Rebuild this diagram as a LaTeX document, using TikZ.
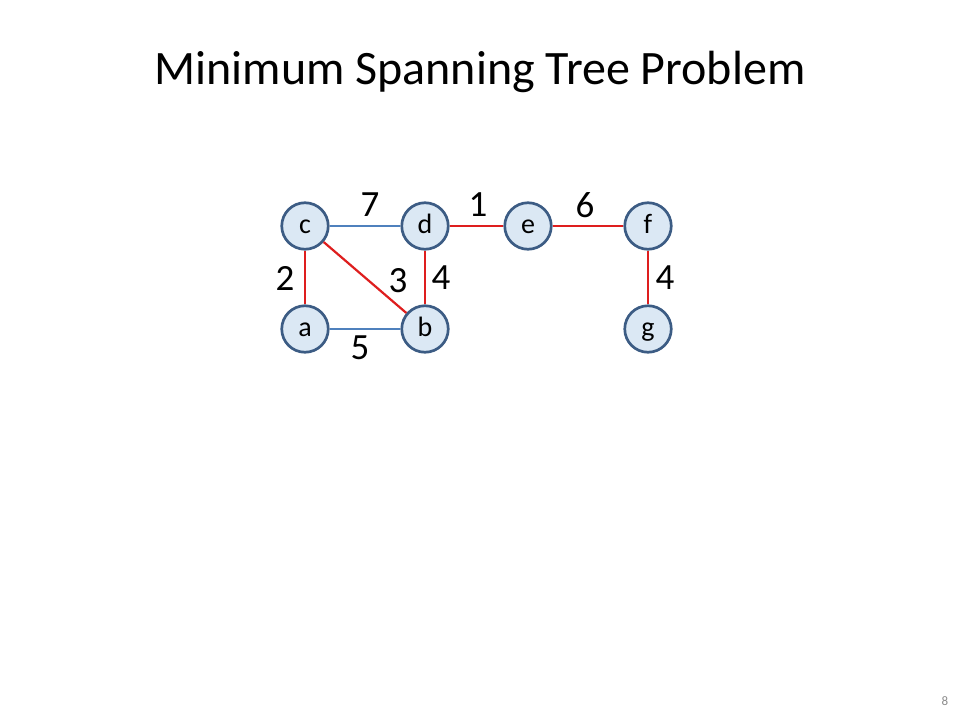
\documentclass[tikz,border=0pt]{standalone}
\usepackage{fontspec}
\setmainfont{Carlito}
\usepackage{tikz}
\usetikzlibrary{calc}
\definecolor{vfill}{RGB}{219,232,244}
\definecolor{vline}{RGB}{60,92,132}
\definecolor{eblue}{RGB}{79,129,189}
\definecolor{ered}{RGB}{222,30,30}
\tikzset{
	vert/.style={circle, draw=vline, fill=vfill, line width=2.7pt, minimum size=46.5pt, inner sep=0pt, text height=14pt, text depth=0pt, font=\fontsize{28}{30}\selectfont},
	tedge/.style={ered, line width=2.2pt},
	oedge/.style={eblue, line width=2.2pt},
	wlabel/.style={font=\fontsize{37}{40}\selectfont, inner sep=0pt}
}

\begin{document}
\begin{tikzpicture}[x=1pt, y=-1pt]
		%%%%% START %%%%%
		
		\useasboundingbox (0, 0) rectangle (960, 720);
		
		\node[anchor=base, font=\fontsize{48}{52}\selectfont] (title) at (480, 84) {Minimum Spanning Tree Problem};
		
		\node[vert] (c) at (305, 226) {c};
		\node[vert] (d) at (425, 226) {d};
		\node[vert] (e) at (528, 226) {e};
		\node[vert] (f) at (648, 226) {f};
		\node[vert] (a) at (305, 329) {a};
		\node[vert] (b) at (425, 329) {b};
		\node[vert] (g) at (648, 329) {g};
		
		\draw[oedge] (c) -- (d);
		\draw[oedge] (a) -- (b);
		\draw[tedge] (c) -- (a);
		\draw[tedge] (c) -- (b);
		\draw[tedge] (d) -- (b);
		\draw[tedge] (d) -- (e);
		\draw[tedge] (e) -- (f);
		\draw[tedge] (f) -- (g);
		
		\node[wlabel] (w7) at (370, 205) {7};
		\node[wlabel] (w1) at (478, 205) {1};
		\node[wlabel] (w6) at (585, 205) {6};
		\node[wlabel] (w2) at (285, 278) {2};
		\node[wlabel] (w3) at (398, 281) {3};
		\node[wlabel] (w4) at (441, 278) {4};
		\node[wlabel] (w4b) at (665, 278) {4};
		\node[wlabel] (w5) at (360, 348) {5};
		
		\node[text=black!45, font=\fontsize{13}{15}\selectfont] (page) at (945, 701) {8};
		
		%%%%% END %%%%%
\end{tikzpicture}
\end{document}
